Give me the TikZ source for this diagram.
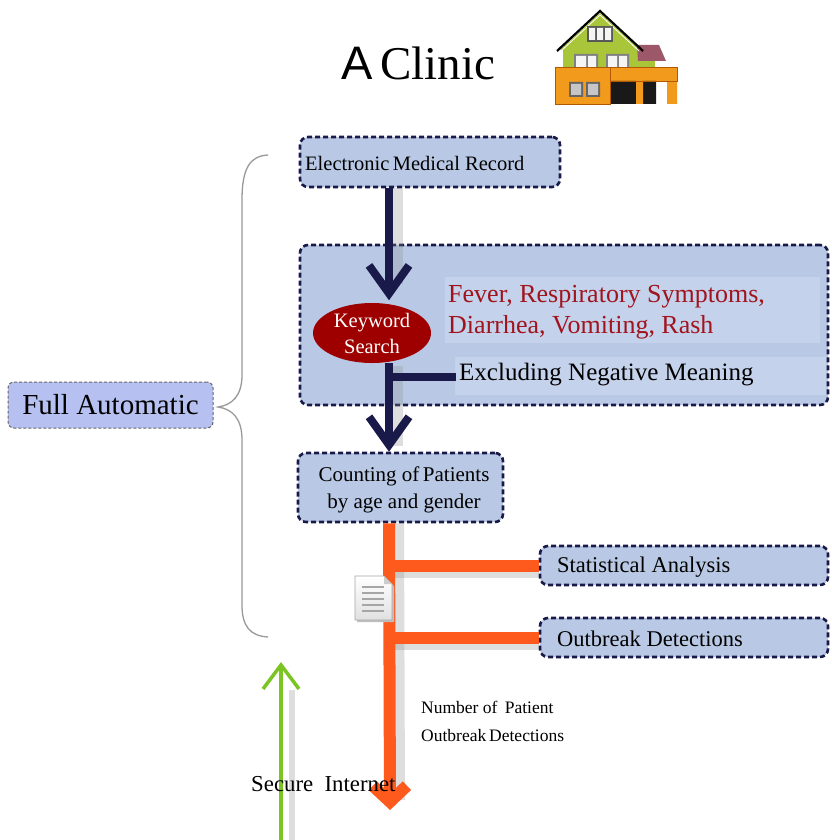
\documentclass[tikz,border=0pt]{standalone}
\usepackage{fontspec}
\setmainfont{Liberation Serif}
\newfontfamily\titlesans{Liberation Sans}
\usetikzlibrary{arrows.meta,shapes.geometric,calc}

\definecolor{navy}{HTML}{1A1A4A}
\definecolor{boxfill}{HTML}{B9C9E5}
\definecolor{bandfill}{HTML}{C4D2EB}
\definecolor{lavender}{HTML}{B6C1F1}
\definecolor{kwred}{HTML}{9E0000}
\definecolor{txtred}{HTML}{A0141E}
\definecolor{flow}{HTML}{FF5A1E}
\definecolor{netgreen}{HTML}{7CC423}
\definecolor{roofgreen}{HTML}{A9C53A}
\definecolor{houseorange}{HTML}{F29A1C}
\definecolor{roofpurple}{HTML}{9C5868}

\tikzset{
  dashbox/.style={draw=navy, fill=boxfill, line width=2.6pt,
    dash pattern=on 5pt off 3pt, rounded corners=8pt, inner sep=0pt},
  navyline/.style={draw=navy, line width=8pt},
  flowline/.style={draw=flow, line width=12pt},
  shadowline/.style={draw=black!45, opacity=0.28, line width=10pt},
}

\begin{document}
\begin{tikzpicture}[x=1pt,y=-1pt]
\useasboundingbox (0,0) rectangle (831,840);
\fill[white] (0,0) rectangle (831,840);

% ---------- title ----------
\node[anchor=base west, inner sep=0pt, font=\fontsize{47}{54}\selectfont] (title) at (341,80)
  {{\titlesans A}\,Clinic};

% ---------- house ----------
\begin{scope}
  % green gable and wall
  \fill[roofgreen] (600,13) -- (560,50) -- (563,50) -- (563,67) -- (638,67) -- (638,50) -- (641,50) -- cycle;
  % side roof and wall
  \fill[roofpurple] (637,45) -- (659,45) -- (666,61) -- (638,61) -- cycle;
  \fill[roofgreen] (638,61) rectangle (655,67);
  % main roof outline
  \draw[black, line width=2.2pt, line join=miter] (557,51) -- (600,11) -- (643,51);
  \draw[white, line width=0.8pt] (561,51) -- (600,15) -- (639,51);
  % windows
  \fill[gray!70!black] (587,26) rectangle (613,42);
  \fill[white!92!gray] (589,28) rectangle (595,40) (597,28) rectangle (603,40) (605,28) rectangle (611,40);
  \fill[gray] (574,54) rectangle (598,67) (606,54) rectangle (629,67);
  \fill[white!92!gray] (576,56) rectangle (586,67) (588,56) rectangle (596,67)
                       (608,56) rectangle (617,67) (619,56) rectangle (627,67);
  % orange base with carport
  \fill[houseorange] (555,67) rectangle (610,104);
  \fill[houseorange] (610,67) rectangle (677,81);
  \fill[black!90] (610,81) rectangle (636,104) (643,81) rectangle (656,104);
  \fill[houseorange] (636,81) rectangle (643,104) (667,81) rectangle (677,104);
  \draw[orange!70!black, line width=0.5pt] (555,67) rectangle (610,104) (610,67) rectangle (677,81);
  \fill[gray!80!black] (569,82) rectangle (583,97) (586,82) rectangle (600,97);
  \fill[gray!45] (571,84) rectangle (581,95) (588,84) rectangle (598,95);
\end{scope}

% ---------- left brace and its label ----------
\draw[black!40, line width=1.3pt]
  (268,155) .. controls (250,156) and (242,168) .. (242,200) -- (242,375)
  .. controls (242,396) and (232,405) .. (218,407)
  .. controls (232,409) and (242,418) .. (242,440) -- (242,605)
  .. controls (242,626) and (250,636) .. (268,637);
\node[draw=black!60, fill=lavender, line width=1pt, dash pattern=on 3pt off 2pt,
      rounded corners=6pt, minimum width=205pt, minimum height=46pt, inner sep=0pt,
      font=\fontsize{29}{33}\selectfont]
  (full) at (110.5,405) {Full Automatic};

% ---------- boxes ----------
\coordinate (spine) at (389,0);

\node[dashbox, minimum width=260pt, minimum height=50pt] (emr) at (430,162) {};
\node[anchor=west, inner sep=0pt, font=\fontsize{20.5}{24}\selectfont] (emrtext) at (305,163) {Electronic\,Medical Record};

\node[dashbox, minimum width=528pt, minimum height=160pt] (search) at (564,325) {};
\fill[bandfill] (445,277) rectangle (820,343);
\fill[bandfill] (455,357) rectangle (826,395);

% shadows of the connectors
\draw[shadowline] ($(spine |- emr.south)+(9,0)$) -- ($(spine |- search.north)+(9,40)$);
\draw[shadowline] ($(spine |- search.south)+(9,-40)$) -- ($(spine |- search.south)+(9,40)$);

% navy connectors
\draw[navyline, -{Straight Barb[length=28pt, width=40pt]}] (spine |- emr.south) -- ($(spine |- emr.south)+(0,112)$) coordinate (kwtop);
\node[ellipse, fill=kwred, minimum width=118pt, minimum height=60pt, inner sep=0pt,
      text=white, align=center, font=\fontsize{20.5}{26}\selectfont] (kw) at (372,333)
  {Keyword\\ Search};
\coordinate (excl) at (456,377);
\draw[navyline] (spine |- kw.south) |- (excl);

\node[anchor=west, inner sep=0pt, text=txtred, align=left, font=\fontsize{26}{31}\selectfont] (symptoms) at (448,312)
  {Fever, Respiratory Symptoms,\\ Diarrhea, Vomiting, Rash};
\node[anchor=west, inner sep=0pt, font=\fontsize{25}{29}\selectfont] (negative) at (459,375)
  {Excluding Negative Meaning};

\node[dashbox, minimum width=205pt, minimum height=69pt] (count) at (400.5,487.5) {};
\node[align=center, inner sep=0pt, font=\fontsize{21}{27}\selectfont] (counttext) at (404,490)
  {Counting of\,Patients\\ by age and gender};

\draw[navyline, -{Straight Barb[length=28pt, width=40pt]}] (spine |- kw.south) -- (spine |- count.north);

\node[dashbox, minimum width=288pt, minimum height=39pt] (stat) at (684,565.5) {};
\node[anchor=west, inner sep=0pt, font=\fontsize{22.5}{26}\selectfont] (stattext) at (557,567) {Statistical Analysis};
\node[dashbox, minimum width=288pt, minimum height=39pt] (outb) at (684,637.5) {};
\node[anchor=west, inner sep=0pt, font=\fontsize{22.5}{26}\selectfont] (outbtext) at (557,639) {Outbreak Detections};

% ---------- orange data flow ----------
\coordinate (flowend) at (390,810);
\draw[shadowline] ($(spine |- count.south)+(10,0)$) -- ($(flowend)+(10,-10)$);
\draw[shadowline, line width=8pt] ($(spine |- stat.west)+(5,8)$) -- ($(stat.west)+(0,8)$);
\draw[shadowline, line width=8pt] ($(spine |- outb.west)+(5,8)$) -- ($(outb.west)+(0,8)$);
\draw[flowline] (spine |- stat.west) -- (stat.west);
\draw[flowline] (spine |- outb.west) -- (outb.west);
\draw[flowline, -{Straight Barb[length=16pt, width=34pt]}] (spine |- count.south) -- (flowend);

% document icon
\begin{scope}
  \fill[black!25] (357,578) -- (386,578) -- (394,586) -- (394,622) -- (357,622) -- cycle;
  \shade[top color=white, bottom color=black!12, draw=black!35, line width=0.6pt]
    (355,576) -- (384,576) -- (392,584) -- (392,620) -- (355,620) -- cycle;
  \fill[black!20] (384,576) -- (384,584) -- (392,584) -- cycle;
  \foreach \yy in {587,593,599,605,611}
    \draw[black!35, line width=1.2pt] (362,\yy) -- (384,\yy);
\end{scope}

\node[anchor=west, inner sep=0pt, align=left, font=\fontsize{17.5}{28}\selectfont] (numtext) at (421,721)
  {Number of~\,Patient\\ Outbreak\,Detections};

% ---------- secure internet ----------
\coordinate (netstart) at (281,840);
\draw[shadowline, line width=6pt] (292,840) -- (292,690);
\draw[netgreen, line width=3.5pt, -{Straight Barb[length=24pt, width=36pt]}] (netstart) -- (281,662) coordinate (nettop);
\node[anchor=west, inner sep=0pt, font=\fontsize{22.8}{26}\selectfont] (net) at (251,784) {Secure~~Internet};

\end{tikzpicture}
\end{document}
